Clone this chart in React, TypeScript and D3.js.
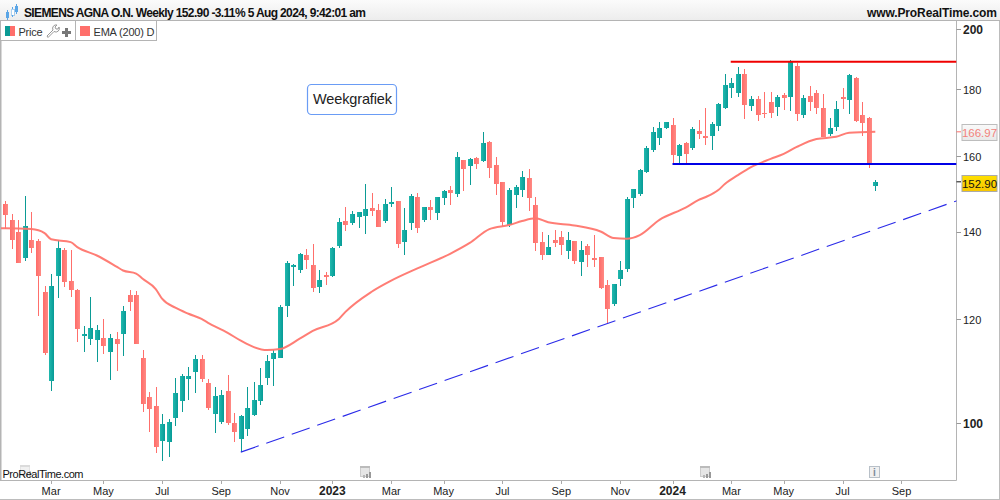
import React from "react";
import * as d3 from "d3";

const opens = [147.1,142.9,139.9,133.8,138,137.7,126,107.7,129.6,135.6,
128.5,126.4,116.6,116,115.8,116.2,113.3,116,117,125.3,
125.3,112.2,104.7,103,96.8,96.7,100.9,103.9,108.1,109.4,
112,107.3,101.6,100.2,105.8,100,97.3,99,101.4,103.9,
108.3,112,112.2,122.9,131.5,131,134.3,132.1,127.1,129.8,
129.6,136.6,142.7,142.2,143.7,143.9,146,145.5,142.7,147.1,
147.8,137.5,142.2,148.8,142.9,146.3,144.7,148.6,150.7,149.7,
158.9,157.2,159.5,158.6,164,157.5,152.9,141.7,149.4,150.7,
153.9,146.8,137.5,134.3,138,138.7,135.4,137.7,132.8,136.6,
133.8,134,127.5,123.3,128.9,131.2,148.6,149.7,155.6,161.7,
165.2,168.2,169.1,160,163.7,162.3,167.3,165.8,165.8,168.8,
174.1,180.4,178.8,185,174.7,176.9,172.6,176,174.4,178.2,
177.6,187.5,172,177.9,178.8,174.1,166.4,168.5,177.6,176.6,
183.6,172,171.1,151.8];

const closes = [144.2,138,132.6,141.4,136.1,129.6,113.1,127.3,136.1,128.2,
126.4,118,117,118.2,117.8,114.5,116.2,115,121.9,123.8,
115,103.4,102.5,95.9,99.8,100.2,105.4,108.7,108.7,112,
108.1,102.7,104.8,105.1,100,98.4,101.2,102.7,104.1,106.9,
111.6,113.1,122.7,132.6,132.1,134.7,133.3,126.8,128.7,129.4,
136.1,142.4,141.7,144.4,145,145.8,145.2,141.2,147.1,147.6,
137,140.4,149.1,140.9,146.3,145.5,148.8,150.4,149.9,159.7,
156.4,159.2,157.8,163.8,156.7,152.3,142.4,150.7,151.5,154.2,
148.6,137.3,134.3,136.3,137.3,136.8,138,133.1,135.6,134.5,
133.3,126.8,122.3,127.8,131,148.4,151,156.1,162.3,167,
168.2,169.9,160.3,163.1,160.6,167.9,166.4,165.2,169.4,175.4,
181.4,182,185,175.1,176.9,172,172.3,172.6,177.6,177.2,
188.9,172.3,177.2,176,174.1,165.5,168.2,173.8,176.9,184.4,
170.2,169.6,157.8,152.9];

const highs = [147.9,144.5,142.9,149.1,145,138.2,127.3,130.1,138,136.1,
135.6,126.6,118.7,124.9,118.8,120.1,117,117.4,122.9,126.4,
126.2,113.7,105.6,106.6,101.6,100.7,108.3,109,110.4,112.7,
112.7,108.1,106.6,106,108.8,101.8,101.4,106.6,107.5,110.2,
112.7,113.7,123.1,133.1,132.4,134.9,135.8,137,131,130.5,
136.3,143.4,146.3,145.2,145,152.3,149.9,147.1,148.4,151.5,
147.8,146,149.7,149.9,146.3,148.1,148.8,150.7,151.8,161.1,
158.9,159.5,159.7,167,164.3,159.7,152.9,151.2,152,155.8,
156.4,148.8,139.9,139.2,140.4,140.2,139.9,137.7,137.7,137,
139.2,134,128.7,127.8,133.1,148.8,151,156.4,162.8,168.5,
169.9,169.9,171.1,163.4,164,168.5,170.5,174.1,169.9,175.7,
185,183.6,187,186.6,177.9,177.9,179.2,179.2,178.2,178.8,
189.6,188.6,178.2,181.1,179.8,178.6,171.1,176.3,180.4,185,
184,176,171.4,153.4];

const lows = [140.8,135.8,132.6,133.1,134.9,120.8,112.7,105.8,124.6,127.1,
124.9,115.4,113.3,114.8,111.4,112.9,107.9,109.6,112.5,121.7,
115,101.9,98.4,94.9,93.5,94.2,99.5,101.9,104.1,105.4,
107.5,102.3,98.3,99.8,99.7,96.7,95.1,97.7,101.2,103.2,
106.9,106.8,112.2,120.5,127.3,130.3,131.2,126,125.7,127.5,
129.2,136.1,140.2,141.7,140.9,139.4,143.9,141.2,142.2,146.3,
136.1,134.5,140.4,139.7,142.4,142.9,142.9,146.8,146.8,148.8,
150.4,152,156.4,158.3,153.9,149.4,141.4,141.2,146,148.8,
145.2,135.4,133.3,134.3,136.3,134.3,133.5,132.4,129.6,131.5,
131.7,126.6,119.3,122.9,127.3,130.5,146,149.1,155.3,161.1,
163.1,167.9,157.8,157.8,157.8,161.7,164.9,163.1,161.7,167.3,
173.8,177.2,177.5,170.8,173.2,170.2,171.1,171.1,171.7,173.5,
173.2,170.2,171.1,173.2,172.3,165.5,165.8,167.3,173.8,172.3,
169.9,165.8,156.7,150.5];

const emaWeeks = [-1,0,4,6,7,10,11,14,17,18,20,21,23,24,26,28,30,31,34,36,38,40,42,45,47,51,52,56,59,63,68,71,74,77,79,81,83,87,91,93,95,97,100,104,106,107,109,110,112,114,117,119,121,124,127,129,133];
const emaValues = [140.9,140.9,140.7,139.7,138.2,137.5,136.3,134.3,131.7,130.8,130.1,128.9,126.6,124.4,122.5,121.2,120.1,119.3,117.2,115.6,114.3,113.7,113.9,116,117.6,120.1,121.6,126,128.5,131.3,134.7,137.3,140.7,141.7,142.7,143.4,142.4,141.6,140.1,138.5,138.3,139.2,143,146.1,148.1,148.8,150.7,152.3,154.7,156.9,159.2,160.6,162.6,164.9,165.5,166.7,166.97];

const priceTicks = [200, 180, 160, 140, 120, 100];
const boldPriceTicks = [200, 100];
const timeTicks: [number, string, boolean][] = [
  [7,"Mar",false],[15,"May",false],[24,"Jul",false],[33,"Sep",false],[42,"Nov",false],[50,"2023",true],
  [59,"Mar",false],[67,"May",false],[76,"Jul",false],[85,"Sep",false],[94,"Nov",false],[102,"2024",true],
  [111,"Mar",false],[119,"May",false],[128,"Jul",false],[137,"Sep",false],
];
const resistanceLine = { price: 188.9, fromWeek: 110.9 };
const supportLine = { price: 157.8, fromWeek: 102 };
const trendWeeks = [36, 146];
const trendPrices = [95, 148.2];
const titleText = "SIEMENS AGNA O.N. Weekly 152.90 -3.11% 5 Aug 2024, 9:42:01 am";
const lastPrice = 152.9;
const lastEma = 166.97;

const PLOT_R = 956.5;
const PLOT_B = 480;
const x = d3.scaleLinear().domain([0, 133]).range([5.3, 875.3]);
const y = d3.scaleLog().domain([100, 200]).range([423, 29.3]);
const sans = "'Liberation Sans', Arial, sans-serif";
const GREEN = "#0b9b95";
const RED = "#ff6f6b";

function CalendarIcon({ px, py, opacity = 0.85 }: { px: number; py: number; opacity?: number }) {
  return (
    <g transform={`translate(${px},${py})`} shapeRendering="crispEdges" opacity={opacity}>
      <rect x={0.5} y={0.5} width={9} height={10} fill="#e2e2e2" stroke="#c4c4c4" />
      <rect x={0} y={0} width={10} height={2} fill="#b0b0b0" />
      <rect x={6} y={8} width={2} height={4} fill="#888" />
      <rect x={9} y={6} width={2} height={6} fill="#888" />
      <rect x={3} y={9} width={2} height={3} fill="#aaa" />
    </g>
  );
}

export default function App() {
  const n = opens.length;
  const candles = d3.range(n).map((i) => ({
    i,
    o: opens[i],
    c: closes[i],
    h: highs[i],
    l: lows[i],
    up: closes[i] >= opens[i],
  }));
  const emaLine = d3
    .line<number>()
    .x((_, i) => x(emaWeeks[i]))
    .y((d) => y(d))
    .curve(d3.curveMonotoneX)(emaValues) as string;

  return (
    <svg
      width={1000}
      height={500}
      style={{ position: "absolute", left: 0, top: 0, background: "#fff", fontFamily: sans }}
    >
      <defs>
        <linearGradient id="gGreen" x1="0" x2="1" y1="0" y2="0">
          <stop offset="0" stopColor="#20b9ae" />
          <stop offset="1" stopColor="#079a96" />
        </linearGradient>
        <linearGradient id="gRed" x1="0" x2="1" y1="0" y2="0">
          <stop offset="0" stopColor="#ff6b68" />
          <stop offset="1" stopColor="#ff8a84" />
        </linearGradient>
        <linearGradient id="gYellow" x1="0" x2="0" y1="0" y2="1">
          <stop offset="0" stopColor="#ffe000" />
          <stop offset="1" stopColor="#f7c600" />
        </linearGradient>
        <linearGradient id="gGrey" x1="0" x2="0" y1="0" y2="1">
          <stop offset="0" stopColor="#fafafa" />
          <stop offset="1" stopColor="#e8e8e8" />
        </linearGradient>
        <linearGradient id="gHead" x1="0" x2="0" y1="0" y2="1">
          <stop offset="0" stopColor="#fbfbfb" />
          <stop offset="1" stopColor="#ececec" />
        </linearGradient>
        <clipPath id="plot">
          <rect x={1} y={22} width={PLOT_R - 1} height={PLOT_B - 22} />
        </clipPath>
      </defs>

      {/* header */}
      <rect x={0} y={0} width={1000} height={21} fill="url(#gHead)" />
      <line x1={0} x2={1000} y1={20.5} y2={20.5} stroke="#b4b4b4" />
      <g shapeRendering="crispEdges">
        <line x1={7.5} x2={7.5} y1={10} y2={20} stroke="#5aa5e6" />
        <rect x={6} y={12} width={3} height={6} fill="#5aa5e6" />
        <line x1={12.5} x2={12.5} y1={7} y2={17} stroke="#5aa5e6" />
        <rect x={11} y={9} width={3} height={6} fill="#fff" stroke="#5aa5e6" strokeWidth={0.5} />
        <line x1={16.5} x2={16.5} y1={4} y2={14} stroke="#5aa5e6" />
        <rect x={15} y={6} width={3} height={6} fill="#5aa5e6" />
      </g>
      <text x={24} y={16.5} fontSize={12} fontWeight={700} fill="#111" textLength={342} lengthAdjust="spacing">
        {titleText}
      </text>
      <text x={867} y={16.5} fontSize={12} fontWeight={700} fill="#111" textLength={130} lengthAdjust="spacing">
        www.ProRealTime.com
      </text>

      {/* frame */}
      <rect x={0} y={21} width={1.5} height={PLOT_B - 21} fill="#b4b4b4" />
      <line x1={PLOT_R} x2={PLOT_R} y1={21} y2={PLOT_B + 0.5} stroke="#b4b4b4" />
      <line x1={0} x2={PLOT_R} y1={PLOT_B + 0.5} y2={PLOT_B + 0.5} stroke="#b4b4b4" />
      <line x1={0} x2={1000} y1={499.5} y2={499.5} stroke="#bcbcbc" />
      <line x1={999.5} x2={999.5} y1={21} y2={500} stroke="#bcbcbc" />

      {/* legend */}
      <g>
        <rect x={0.5} y={20.5} width={75} height={20} fill="#fff" stroke="#b4b4b4" />
        <rect x={75.5} y={20.5} width={81} height={20} fill="#fff" stroke="#b4b4b4" />
        <rect x={5} y={26} width={5} height={10} fill={GREEN} />
        <rect x={10} y={26} width={5} height={10} fill={RED} />
        <text x={18.5} y={36} fontSize={11} fill="#333" textLength={24}>Price</text>
        <path d="M47 36 l6-6 a3.5 3.5 0 0 1 4-5 l-2 2 1 2 2 0 1-2 a3.5 3.5 0 0 1-5 4.5 l-6 6z" fill="none" stroke="#999" />
        <path d="M62 31 h3 v-3 h3 v3 h3 v3 h-3 v3 h-3 v-3 h-3z" fill="#777" />
        <rect x={80} y={26} width={10} height={10} fill={RED} />
        <text x={93.5} y={36} fontSize={11} fill="#333" textLength={61}>EMA (200) D</text>
      </g>

      {/* annotation */}
      <rect x={307.5} y={84.5} width={89} height={30} rx={4} fill="#fff" stroke="#6a9cf5" strokeWidth={1.2} />
      <text x={313} y={104} fontSize={14.5} fill="#222" textLength={79}>Weekgrafiek</text>

      {/* marks */}
      <g clipPath="url(#plot)">
        {candles.map((d) => (
          <g key={d.i}>
            <line
              x1={Math.round(x(d.i)) + 0.5}
              x2={Math.round(x(d.i)) + 0.5}
              y1={y(d.h)}
              y2={y(d.l)}
              stroke={d.up ? GREEN : RED}
              shapeRendering="crispEdges"
            />
            <rect
              x={Math.round(x(d.i)) - 2}
              y={y(Math.max(d.o, d.c))}
              width={5}
              height={Math.max(1.5, Math.abs(y(d.o) - y(d.c)))}
              fill={d.up ? "url(#gGreen)" : "url(#gRed)"}
              shapeRendering="crispEdges"
            />
          </g>
        ))}
        <path d={emaLine} fill="none" stroke="#ff766e" strokeWidth={2} opacity={0.95} />
        <line
          x1={x(resistanceLine.fromWeek)}
          x2={PLOT_R}
          y1={y(resistanceLine.price)}
          y2={y(resistanceLine.price)}
          stroke="#f00000"
          strokeWidth={2}
        />
        <line
          x1={x(supportLine.fromWeek)}
          x2={PLOT_R}
          y1={y(supportLine.price)}
          y2={y(supportLine.price)}
          stroke="#0000e6"
          strokeWidth={2}
        />
        <line
          x1={x(trendWeeks[0])}
          x2={x(trendWeeks[1])}
          y1={y(trendPrices[0])}
          y2={y(trendPrices[1])}
          stroke="#2a2ae8"
          strokeWidth={1.1}
          strokeDasharray="19 8"
        />
      </g>

      <CalendarIcon px={20} py={465} opacity={0.45} />
      <CalendarIcon px={360} py={466} />
      <CalendarIcon px={700} py={466} />
      <rect x={869.5} y={466.5} width={10} height={11} fill="#f0f0f0" stroke="#b8c0c8" shapeRendering="crispEdges" />
      <text x={874.5} y={476} fontSize={10} fontWeight={700} fill="#7a8a99" textAnchor="middle">i</text>
      <text x={2.5} y={478} fontSize={11} fill="#111" textLength={81}>ProRealTime.com</text>

      {/* price axis */}
      {priceTicks.map((t) => {
        const bold = boldPriceTicks.includes(t);
        return (
          <g key={t}>
            <line x1={PLOT_R} x2={961} y1={Math.round(y(t)) + 0.5} y2={Math.round(y(t)) + 0.5} stroke="#999" />
            <text x={963} y={y(t) + 4.5} fontSize={bold ? 12 : 11} fontWeight={bold ? 700 : 400} fill="#222">
              {t}
            </text>
          </g>
        );
      })}
      <line x1={PLOT_R} x2={961} y1={y(lastEma)} y2={y(lastEma)} stroke={RED} />
      <rect x={962} y={124.5} width={35} height={16} fill="url(#gGrey)" stroke="#bdbdbd" />
      <text x={979.5} y={136.5} fontSize={11.5} fill="#f2827c" textAnchor="middle">{lastEma.toFixed(2)}</text>
      <line x1={PLOT_R} x2={961} y1={y(lastPrice)} y2={y(lastPrice)} stroke="#111" />
      <rect x={962} y={175.5} width={35} height={16} fill="url(#gYellow)" stroke="#aaa" />
      <text x={979.5} y={187.5} fontSize={11.5} fill="#111" textAnchor="middle">{lastPrice.toFixed(2)}</text>

      {/* time axis */}
      {timeTicks.map(([w, label, bold]) => (
        <g key={`${w}`}>
          <line x1={Math.round(x(w)) + 0.5} x2={Math.round(x(w)) + 0.5} y1={PLOT_B + 1} y2={484} stroke="#aaa" />
          <text
            x={x(w)}
            y={495}
            fontSize={bold ? 12 : 11}
            fontWeight={bold ? 700 : 400}
            fill="#222"
            textAnchor="middle"
          >
            {label}
          </text>
        </g>
      ))}
    </svg>
  );
}
